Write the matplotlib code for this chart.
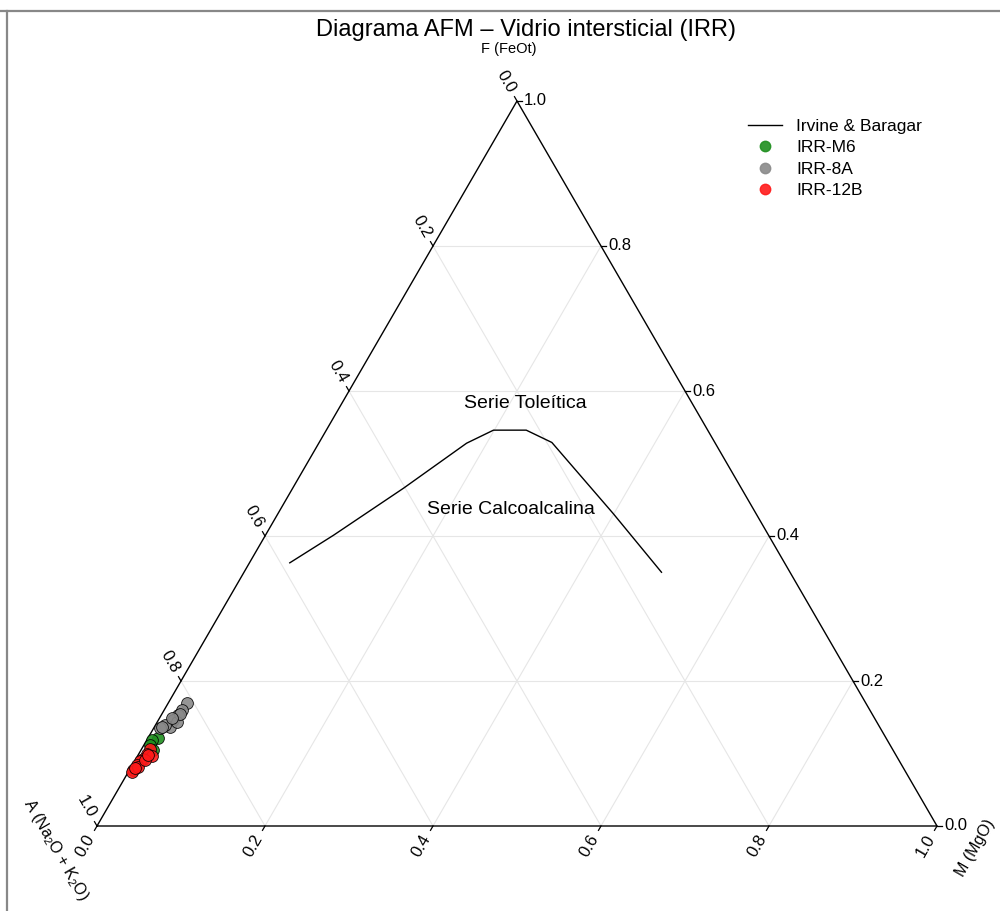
import numpy as np
import matplotlib
matplotlib.use("Agg")
import matplotlib.pyplot as plt
from matplotlib.lines import Line2D

plt.rcParams['font.family'] = ['Liberation Sans', 'DejaVu Sans']
plt.rcParams['mathtext.fontset'] = 'custom'
plt.rcParams['mathtext.rm'] = 'Liberation Sans'

# ---------------- data (ternary fractions F, M; A = 1 - F - M) ----------------
ib_F = [0.363, 0.401, 0.466, 0.528, 0.546, 0.546, 0.529, 0.431, 0.350]
ib_M = [0.048, 0.081, 0.132, 0.176, 0.199, 0.238, 0.277, 0.399, 0.497]

m6_F = [0.121, 0.119, 0.112, 0.105]
m6_M = [0.0125, 0.0058, 0.0072, 0.0146]

a8_F = [0.170, 0.160, 0.153, 0.146, 0.137, 0.139, 0.135, 0.144, 0.155, 0.149, 0.137]
a8_M = [0.0218, 0.0208, 0.0202, 0.0177, 0.0184, 0.0113, 0.0076, 0.0230, 0.0211, 0.0146, 0.0085]

b12_F = [0.106, 0.100, 0.096, 0.093, 0.089, 0.084, 0.077, 0.074, 0.082, 0.091, 0.098, 0.080]
b12_M = [0.0102, 0.0091, 0.0173, 0.0084, 0.0069, 0.0052, 0.0046, 0.0045, 0.0083, 0.0116, 0.0121, 0.0054]

ticks = [0.0, 0.2, 0.4, 0.6, 0.8, 1.0]
tick_labels = ['0.0', '0.2', '0.4', '0.6', '0.8', '1.0']

series = [("IRR-M6", m6_F, m6_M, "#1f8f1f"),
          ("IRR-8A", a8_F, a8_M, "#8a8a8a"),
          ("IRR-12B", b12_F, b12_M, "#ff1a1a")]

H = np.sqrt(3) / 2


def tern(F, M):
    F = np.asarray(F, float)
    M = np.asarray(M, float)
    return M + F / 2, F * H


fig = plt.figure(figsize=(10, 9.11), dpi=100)
W, HH = 1000, 911
ax = fig.add_axes([97 / W, (HH - 826) / HH, 840 / W, 725 / HH])
ax.set_xlim(0, 1)
ax.set_ylim(0, H)
ax.axis('off')

px_x = 840.0  # pixels per x unit
px_y = 725.0 / H

# grid
gc = '#e6e6e6'
for t in [0.2, 0.4, 0.6, 0.8]:
    x, y = tern([t, t], [0, 1 - t]); ax.plot(x, y, color=gc, lw=0.8, zorder=1)
    x, y = tern([0, 1 - t], [t, t]); ax.plot(x, y, color=gc, lw=0.8, zorder=1)
    x, y = tern([1 - t, 0], [0, 1 - t]); ax.plot(x, y, color=gc, lw=0.8, zorder=1)

# triangle
x, y = tern([0, 0, 1, 0], [0, 1, 0, 0])
ax.plot(x, y, color='black', lw=1.0, zorder=3, solid_joinstyle='miter', clip_on=False)

# ticks
tl = 5.0
for t, lab in zip(ticks, tick_labels):
    # bottom (M)
    x0, y0 = tern(0, t)
    ax.plot([x0, x0 - 0.5 * tl / px_x], [y0, y0 - 0.866 * tl / px_y], color='black', lw=0.9, clip_on=False)
    ax.annotate(lab, (x0, y0), xytext=(-0.5 * 23 * 0.72, -0.866 * 23 * 0.72),
                textcoords='offset points', rotation=60, ha='center', va='center',
                fontsize=12, rotation_mode='anchor')
    # right (F)
    x0, y0 = tern(t, 1 - t)
    ax.plot([x0, x0 + tl / px_x], [y0, y0], color='black', lw=0.9, clip_on=False)
    ax.annotate(lab, (x0, y0), xytext=(7 * 0.72, 0), textcoords='offset points',
                ha='left', va='center', fontsize=12)
    # left (A)
    x0, y0 = tern(1 - t, 0)
    ax.plot([x0, x0 - 0.5 * tl / px_x], [y0, y0 + 0.866 * tl / px_y], color='black', lw=0.9, clip_on=False)
    ax.annotate(lab, (x0, y0), xytext=(-0.5 * 22 * 0.72, 0.866 * 22 * 0.72),
                textcoords='offset points', rotation=-60, ha='center', va='center',
                fontsize=12, rotation_mode='anchor')

# Irvine & Baragar boundary
x, y = tern(ib_F, ib_M)
ax.plot(x, y, color='black', lw=1.0, zorder=4)

# data
for name, F, M, c in series:
    x, y = tern(F, M)
    ax.scatter(x, y, s=72, color=c, edgecolors=(0, 0, 0, 0.75), linewidths=0.6,
               alpha=0.9, zorder=5, clip_on=False)

# region labels
fig.text(525 / W, 1 - 403 / HH, 'Serie Toleítica', ha='center', va='center', fontsize=14)
fig.text(511 / W, 1 - 509 / HH, 'Serie Calcoalcalina', ha='center', va='center', fontsize=14)

# axis labels
fig.text(509 / W, 1 - 49 / HH, 'F (FeOt)', ha='center', va='center', fontsize=10.5)
fig.text(56 / W, 1 - 850 / HH, r'A (Na$\mathregular{_2}$O + K$\mathregular{_2}$O)',
         ha='center', va='center', rotation=-60, fontsize=11.5, rotation_mode='anchor')
fig.text(975 / W, 1 - 848 / HH, 'M (MgO)', ha='center', va='center', rotation=60,
         fontsize=11.5, rotation_mode='anchor')

# title
fig.text(526 / W, 1 - 30 / HH, 'Diagrama AFM – Vidrio intersticial (IRR)',
         ha='center', va='center', fontsize=17)

# legend
handles = [Line2D([], [], color='black', lw=1.0, label='Irvine & Baragar')]
for name, F, M, c in series:
    handles.append(Line2D([], [], ls='none', marker='o', markersize=7.5,
                          markerfacecolor=c, markeredgecolor=c, alpha=0.9, label=name))
fig.legend(handles=handles, loc='upper left', bbox_to_anchor=(732 / W, 1 - 103 / HH),
           frameon=False, fontsize=12.5, handlelength=2.0, handletextpad=0.8,
           labelspacing=0.36, borderpad=0.4)

# outer frame lines (top and left)
fig.add_artist(Line2D([0, 1], [1 - 11 / HH, 1 - 11 / HH], transform=fig.transFigure,
                      color='#888888', lw=1.6))
fig.add_artist(Line2D([7 / W, 7 / W], [0, 1 - 11 / HH], transform=fig.transFigure,
                      color='#888888', lw=1.6))

fig.savefig('out.png', dpi=100)
